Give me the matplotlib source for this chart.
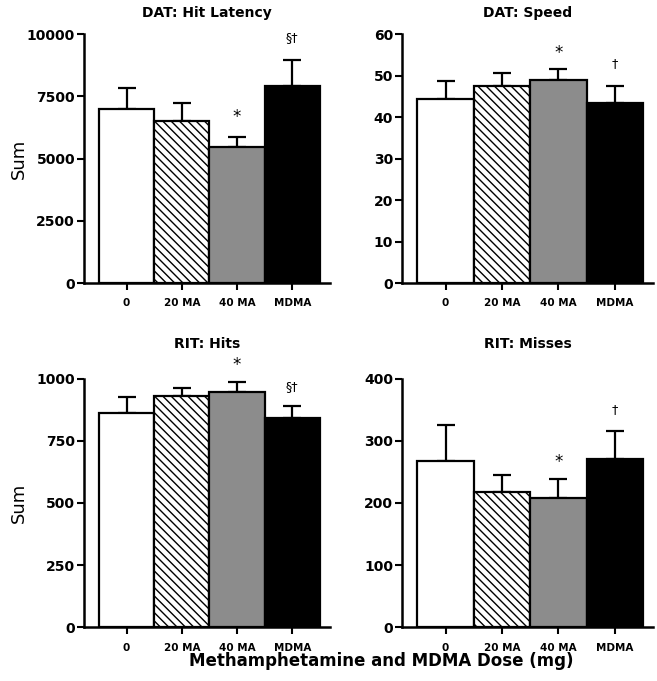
import matplotlib
matplotlib.use("Agg")
import matplotlib.pyplot as plt
import numpy as np

groups = ["0", "20 MA", "40 MA", "MDMA"]

titles = ["DAT: Hit Latency", "DAT: Speed", "RIT: Hits", "RIT: Misses"]
means = [
    [6990, 6510, 5470, 7920],
    [44.3, 47.5, 48.9, 43.5],
    [863, 931, 945, 840],
    [268, 217, 208, 270],
]
sems = [
    [840, 720, 400, 1040],
    [4.4, 3.0, 2.6, 4.0],
    [64, 32, 40, 51],
    [57, 28, 30, 45],
]
yticks = [
    [0, 2500, 5000, 7500, 10000],
    [0, 10, 20, 30, 40, 50, 60],
    [0, 250, 500, 750, 1000],
    [0, 100, 200, 300, 400],
]
# significance marks: (bar index, y position, text)
marks = [
    [(2, 6680, "*"), (3, 9850, "§†")],
    [(2, 55.5, "*"), (3, 52.8, "†")],
    [(2, 1055, "*"), (3, 967, "§†")],
    [(2, 266, "*"), (3, 350, "†")],
]

fills = ["white", "white", "#8c8c8c", "black"]
hatches = [None, "\\\\\\\\", None, None]

plt.rcParams["hatch.linewidth"] = 1.0

fig = plt.figure(figsize=(6.57, 6.81), dpi=100)
positions = [
    [0.128, 0.5844, 0.374, 0.3656],
    [0.612, 0.5844, 0.382, 0.3656],
    [0.128, 0.0789, 0.374, 0.3652],
    [0.612, 0.0789, 0.382, 0.3652],
]
title_pads = [12, 12, 22, 22]

x = np.arange(len(groups))
for k in range(4):
    ax = fig.add_axes(positions[k])
    ax.bar(x, means[k], width=1.0, color=fills, edgecolor="black",
           linewidth=1.6, hatch=hatches, zorder=2)
    ax.errorbar(x, means[k], yerr=[np.zeros(4), sems[k]], fmt="none",
                ecolor="black", elinewidth=1.6, capsize=6.5, capthick=1.6,
                zorder=1)
    for i, yv, s in marks[k]:
        fs = 12 if s == "*" else 9
        ax.text(i, yv, s, ha="center", va="center", fontsize=fs,
                clip_on=False)
    ax.set_xlim(-0.77, 3.68)
    ax.set_ylim(0, yticks[k][-1])
    ax.set_yticks(yticks[k])
    ax.set_xticks(x)
    ax.set_xticklabels(groups, fontsize=7.5, fontweight="bold")
    for lab in ax.get_yticklabels():
        lab.set_fontsize(10)
        lab.set_fontweight("bold")
    ax.spines["top"].set_visible(False)
    ax.spines["right"].set_visible(False)
    ax.spines["left"].set_linewidth(1.8)
    ax.spines["bottom"].set_linewidth(1.8)
    ax.tick_params(axis="both", direction="out", width=1.5, length=5)
    ax.tick_params(axis="y", pad=1.5)
    ax.tick_params(axis="x", pad=6)
    ax.set_title(titles[k], fontsize=10, fontweight="bold",
                 pad=title_pads[k])
    if k % 2 == 0:
        ax.set_ylabel("Sum", fontsize=13)
        ax.yaxis.set_label_coords(-0.228, 0.5)

fig.text(0.58, 0.03, "Methamphetamine and MDMA Dose (mg)",
         ha="center", va="center", fontsize=12, fontweight="bold")

fig.savefig("out.png", dpi=100)
